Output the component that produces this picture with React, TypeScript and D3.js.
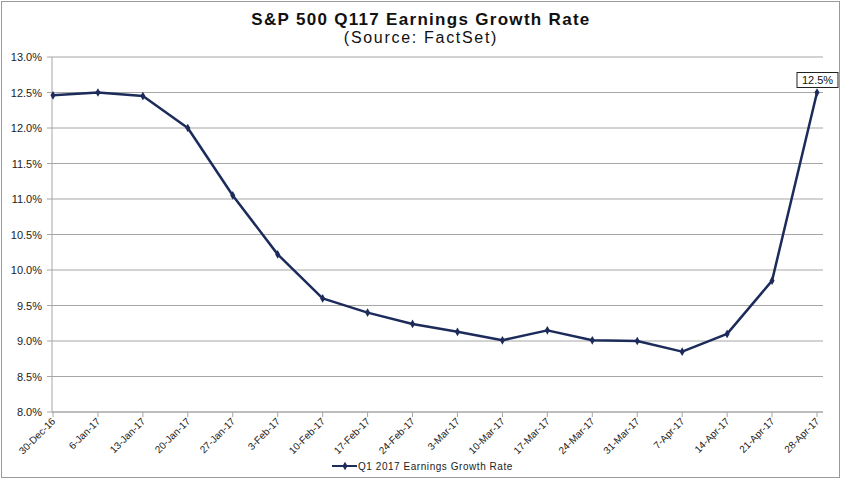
import React from "react";
import * as d3 from "d3";

const categories = ["30-Dec-16","6-Jan-17","13-Jan-17","20-Jan-17","27-Jan-17","3-Feb-17","10-Feb-17","17-Feb-17","24-Feb-17","3-Mar-17","10-Mar-17","17-Mar-17","24-Mar-17","31-Mar-17","7-Apr-17","14-Apr-17","21-Apr-17","28-Apr-17"];
const values = [12.46,12.5,12.45,12.0,11.05,10.22,9.6,9.4,9.24,9.13,9.01,9.15,9.01,9.0,8.85,9.1,9.85,12.5];
const yTicks = [8.0,8.5,9.0,9.5,10.0,10.5,11.0,11.5,12.0,12.5,13.0];
const seriesName = "Q1 2017 Earnings Growth Rate";
const title = "S&P 500 Q117 Earnings Growth Rate";
const subtitle = "(Source: FactSet)";
const lastLabel = "12.5%";

export default function App() {
  const W = 846, H = 480;
  const left = 52, right = 823, top = 57, bottom = 412;
  const x = d3.scalePoint<string>().domain(categories).range([53, 817]);
  const y = d3.scaleLinear().domain([8, 13]).range([bottom, top]);
  const line = d3.line<number>().x((_, i) => x(categories[i])!).y(d => y(d));
  const navy = "#1c2b5a";
  const diamond = d3.symbol().type(d3.symbolDiamond).size(22)();
  const font = "Arial, 'Liberation Sans', sans-serif";
  const lx = x(categories[categories.length - 1])!;
  const ly = y(values[values.length - 1]);
  return (
    <svg width={W} height={H} style={{ position: "absolute", left: 0, top: 0, display: "block" }} fontFamily={font}>
      <rect x={0} y={0} width={W} height={H} fill="white" />
      <rect x={1.5} y={1.5} width={838} height={476} fill="none" stroke="#9a9a9a" strokeWidth={1} />
      <text x={421} y={25} textAnchor="middle" fontSize={17} fontWeight="bold" letterSpacing={1.3} fill="#111">{title}</text>
      <text x={421} y={43} textAnchor="middle" fontSize={16} letterSpacing={1.7} fill="#111">{subtitle}</text>
      {yTicks.map(t => (
        <g key={t}>
          {t > 8 && <line x1={left} x2={right} y1={y(t)} y2={y(t)} stroke="#a6a6a6" strokeWidth={1} />}
          <line x1={left - 5} x2={left} y1={y(t)} y2={y(t)} stroke="#a6a6a6" />
          <text x={42} y={y(t) + 4} textAnchor="end" fontSize={11} fill="#222">{t.toFixed(1) + "%"}</text>
        </g>
      ))}
      <line x1={left} x2={left} y1={top} y2={bottom} stroke="#a6a6a6" />
      <line x1={left} x2={right} y1={bottom} y2={bottom} stroke="#a6a6a6" strokeWidth={1.5} />
      {categories.map(c => (
        <g key={c}>
          <line x1={x(c)} x2={x(c)} y1={bottom} y2={bottom + 5} stroke="#a6a6a6" />
          <text transform={`translate(${x(c)! + 3},${bottom + 10}) rotate(-45)`} textAnchor="end" fontSize={10} fill="#222">{c}</text>
        </g>
      ))}
      <path d={line(values) || ""} fill="none" stroke={navy} strokeWidth={2.5} strokeLinejoin="round" />
      {values.map((v, i) => (
        <path key={i} d={diamond} transform={`translate(${x(categories[i])},${y(v)})`} fill={navy} />
      ))}
      <rect x={lx - 20} y={ly - 20} width={41} height={15} fill="white" stroke="#222" strokeWidth={1} />
      <text x={lx + 0.5} y={ly - 8.5} textAnchor="middle" fontSize={11} fill="#111">{lastLabel}</text>
      <line x1={332} x2={357} y1={466} y2={466} stroke={navy} strokeWidth={2} />
      <path d={diamond} transform="translate(345,466)" fill={navy} />
      <text x={358} y={470} fontSize={10} letterSpacing={0.55} fill="#222">{seriesName}</text>
    </svg>
  );
}
